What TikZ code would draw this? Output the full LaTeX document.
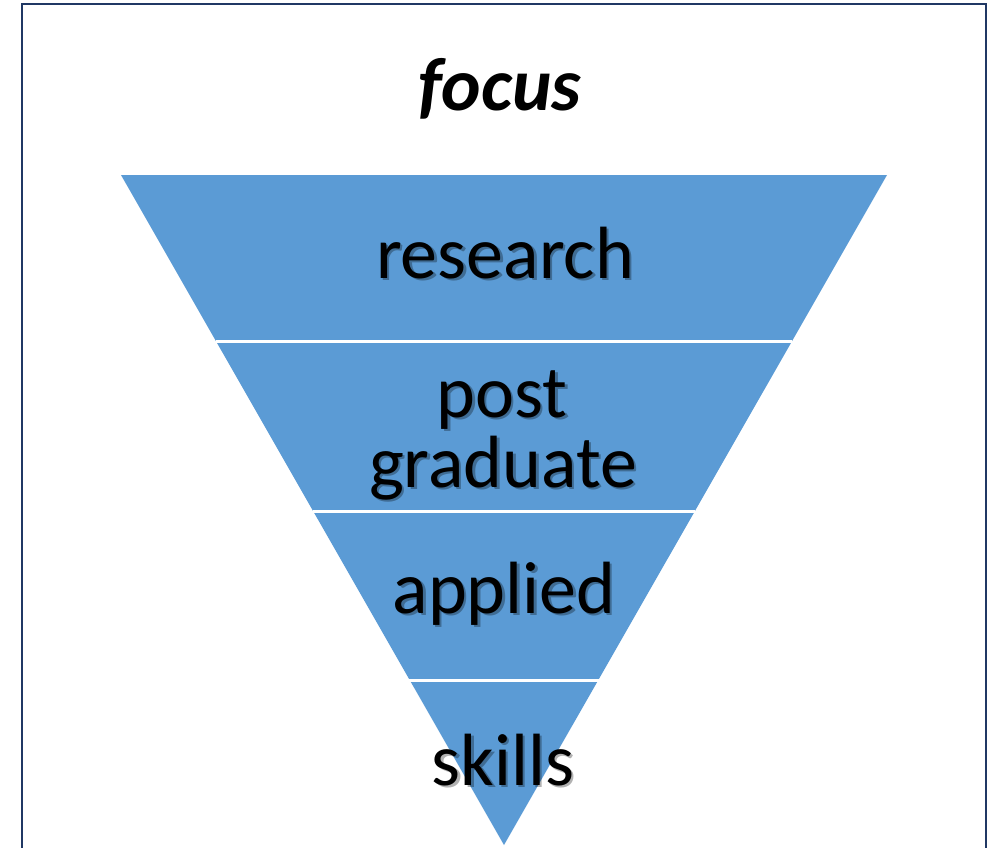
\documentclass[tikz,border=0pt]{standalone}
\usepackage{fontspec}
\setmainfont{Carlito}
\begin{document}
\begin{tikzpicture}[x=1pt,y=-1pt,
  band/.style={fill=bandblue,draw=none},
  sep/.style={draw=white,line width=3pt},
  lbl/.style={anchor=base,inner sep=0pt,font=\fontsize{74}{72}\selectfont,text=black},
  shd/.style={anchor=base,inner sep=0pt,font=\fontsize{74}{72}\selectfont,text=black,opacity=0.3}]
\definecolor{bandblue}{HTML}{5B9BD5}
\definecolor{framenavy}{HTML}{203864}
\useasboundingbox (0,0) rectangle (997,847);
\fill[white] (0,0) rectangle (997,847);
\draw[framenavy,line width=2.2pt] (22,870) -- (22,4) -- (986,4) -- (986,870);
% funnel
\coordinate (tl) at (121,175);
\coordinate (tr) at (887,175);
\coordinate (ap) at (504,845);
\fill[band] (tl) -- (tr) -- (ap) -- cycle;
\coordinate (s1l) at (216,341); \coordinate (s1r) at (792,341);
\coordinate (s2l) at (313,511); \coordinate (s2r) at (695,511);
\coordinate (s3l) at (409,680); \coordinate (s3r) at (599,680);
\draw[sep] (s1l) -- (s1r);
\draw[sep] (s2l) -- (s2r);
\draw[sep] (s3l) -- (s3r);
% title
\node[anchor=base,inner sep=0pt,font=\fontsize{75}{75}\selectfont\bfseries\itshape] (focus) at (500,110) {focus};
% shadows
\node[shd] (researchS) at (507.5,280.5) {research};
\node[shd] (postS) at (504.5,419.5) {post};
\node[shd] (graduateS) at (505.5,489.5) {graduate};
\node[shd] (appliedS) at (506.5,615.5) {applied};
\node[shd] (skillsS) at (505.5,787.5) {skills};
% labels
\node[lbl] (research) at (505,278) {research};
\node[lbl] (post) at (502,417) {post};
\node[lbl] (graduate) at (503,487) {graduate};
\node[lbl] (applied) at (504,613) {applied};
\node[lbl] (skills) at (503,785) {skills};
\end{tikzpicture}
\end{document}
